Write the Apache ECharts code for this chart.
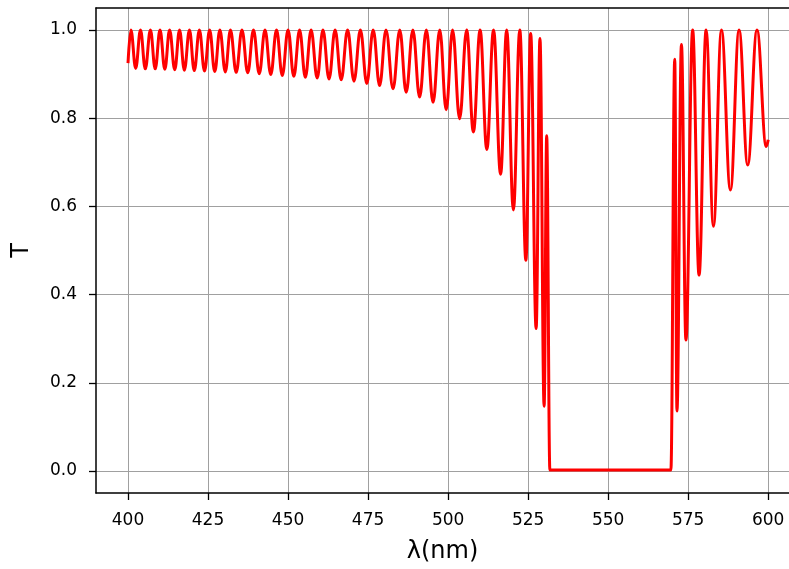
<!DOCTYPE html>
<html><head><meta charset="utf-8">
<script src="https://cdn.jsdelivr.net/npm/echarts@6/dist/echarts.min.js"></script>
<style>html,body{margin:0;padding:0;background:#fff}#c{width:789px;height:569px}</style>
</head><body><div id="c"></div>
<script>
// wavelength (nm) of the read extrema / end points of the curve
const lambdaNm = [
400.0,400.9,402.4,403.9,405.4,407.0,408.5,410.0,411.5,413.0,414.6,416.1,417.6,419.2,420.7,422.3,
423.9,425.5,427.1,428.7,430.4,432.0,433.8,435.6,437.4,439.2,441.0,442.8,444.6,446.4,448.2,450.0,
451.8,453.6,455.4,457.2,459.1,460.9,462.8,464.7,466.6,468.6,470.6,472.6,474.6,476.6,478.6,480.6,
482.8,484.9,486.9,489.0,491.1,493.2,495.3,497.4,499.4,501.4,503.6,505.8,507.9,510.0,512.1,514.2,
516.4,518.3,520.4,522.4,524.3,525.8,527.5,528.7,530.0,530.8,531.8,569.6,570.8,571.5,572.9,574.3,
576.4,578.4,580.6,582.9,585.4,588.2,590.9,593.6,596.5,599.4,600.0
];
// transmission T at those wavelengths
const transmission = [
0.925,1.0,0.913,1.0,0.912,1.0,0.912,1.0,0.911,1.0,0.910,1.0,0.909,1.0,0.908,1.0,
0.907,1.0,0.906,1.0,0.905,1.0,0.904,1.0,0.903,1.0,0.901,1.0,0.899,1.0,0.897,1.0,
0.895,1.0,0.893,1.0,0.891,1.0,0.889,1.0,0.887,1.0,0.884,1.0,0.879,1.0,0.874,1.0,
0.867,1.0,0.859,1.0,0.848,1.0,0.836,1.0,0.819,1.0,0.799,1.0,0.769,1.0,0.729,1.0,
0.673,1.0,0.592,1.0,0.478,0.992,0.323,0.981,0.147,0.760,0.002,0.002,0.934,0.136,0.967,0.297,
1.0,0.444,1.0,0.555,1.0,0.637,1.0,0.694,1.0,0.736,0.751
];
const xTicks = [400,425,450,475,500,525,550,575,600];
const yTicks = [0.0,0.2,0.4,0.6,0.8,1.0];

const seriesData = lambdaNm.map((x,i)=>[x, transmission[i]]);
const chart = echarts.init(document.getElementById('c'), null, {renderer:'canvas'});
const font = 'DejaVu Sans';
const X_MIN = 390, X_MAX = 606.5;
chart.setOption({
  animation:false,
  backgroundColor:'#ffffff',
  grid:{left:96, top:8, right:0, height:489, show:false},
  xAxis:[{
    type:'value', min:X_MIN, max:X_MAX, position:'bottom',
    name:'λ(nm)', nameLocation:'middle', nameGap:47,
    nameTextStyle:{fontFamily:font, fontSize:24, color:'#000'},
    axisLine:{show:true, onZero:false, lineStyle:{color:'#000', width:1.5}},
    axisTick:{show:true, inside:false, length:7, lineStyle:{color:'#000', width:1.3}, customValues:xTicks},
    axisLabel:{show:true, customValues:xTicks, margin:19, fontFamily:font, fontSize:17, color:'#000'},
    splitLine:{show:true, lineStyle:{color:'#a0a0a0', width:1}}
  },{
    type:'value', min:X_MIN, max:X_MAX, position:'top',
    axisLine:{show:true, onZero:false, lineStyle:{color:'#000', width:1.5}},
    axisTick:{show:false}, axisLabel:{show:false}, splitLine:{show:false}
  }],
  yAxis:{
    type:'value', min:-0.05, max:1.05,
    name:'T', nameLocation:'middle', nameGap:62, nameRotate:90,
    nameTextStyle:{fontFamily:font, fontSize:24, color:'#000'},
    axisLine:{show:true, onZero:false, lineStyle:{color:'#000', width:1.5}},
    axisTick:{show:true, inside:false, length:7, lineStyle:{color:'#000', width:1.3}, customValues:yTicks},
    axisLabel:{show:true, customValues:yTicks, margin:19, fontFamily:font, fontSize:17, color:'#000',
      formatter:(v)=>v.toFixed(1)},
    splitLine:{show:true, lineStyle:{color:'#a0a0a0', width:1}}
  },
  series:[{
    type:'line', xAxisIndex:0, data:seriesData, showSymbol:false, smooth:0.4, smoothMonotone:'x',
    lineStyle:{color:'#ff0000', width:3}, z:5
  }]
});
</script></body></html>
